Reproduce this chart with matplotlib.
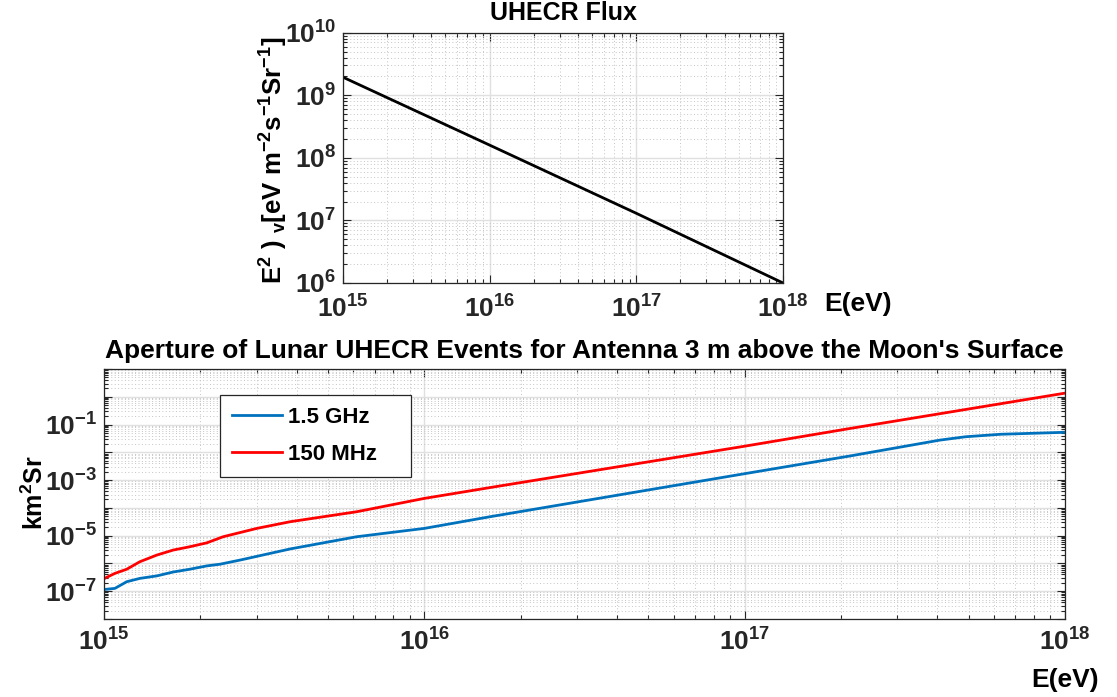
import numpy as np
import matplotlib.pyplot as plt
from matplotlib.ticker import LogLocator, NullFormatter, FixedLocator, FuncFormatter

plt.rcParams['font.family'] = ['Liberation Sans', 'DejaVu Sans']
plt.rcParams['font.weight'] = 'bold'
plt.rcParams['axes.labelweight'] = 'bold'
plt.rcParams['axes.titleweight'] = 'bold'
plt.rcParams['mathtext.fontset'] = 'custom'
plt.rcParams['mathtext.rm'] = 'Liberation Sans:bold'
plt.rcParams['mathtext.it'] = 'Liberation Sans:bold'
plt.rcParams['mathtext.bf'] = 'Liberation Sans:bold'
plt.rcParams['mathtext.default'] = 'rm'

# UHECR flux (top panel)
flux_E = [1e15, 1e16, 1e17, 1e18]
flux_val = [1.95e9, 1.6e8, 1.3e7, 1.0e6]

# aperture curves (bottom panel), log10 values
ghz_logE = [15.0, 15.034, 15.071, 15.112, 15.165, 15.216, 15.268, 15.321, 15.362,
            15.425, 15.581, 15.789, 16.0, 16.205, 17.0, 17.33, 17.61, 17.69, 17.80, 18.0]
ghz_logA = [-6.94, -6.90, -6.66, -6.54, -6.45, -6.31, -6.21, -6.09, -6.03,
            -5.88, -5.48, -5.04, -4.74, -4.32, -2.77, -2.13, -1.56, -1.44, -1.35, -1.28]
mhz_logE = [15.0, 15.034, 15.071, 15.112, 15.165, 15.216, 15.268, 15.321, 15.372,
            15.477, 15.581, 15.789, 16.0, 16.205, 17.0, 17.33, 18.0]
mhz_logA = [-6.55, -6.36, -6.21, -5.94, -5.70, -5.52, -5.40, -5.26, -5.04,
            -4.74, -4.50, -4.14, -3.66, -3.27, -1.78, -1.14, 0.13]

fig = plt.figure(figsize=(11.17, 6.97), dpi=100)


def style_axes(ax):
    ax.set_xscale('log')
    ax.set_yscale('log')
    ax.tick_params(which='both', direction='in', top=True, right=True,
                   labelsize=19, width=0.8, colors='#262626')
    ax.tick_params(which='major', length=6)
    ax.tick_params(which='minor', length=3)
    ax.tick_params(axis='x', which='major', pad=7)
    ax.tick_params(axis='y', which='major', pad=5)
    ax.xaxis.set_minor_locator(LogLocator(base=10, subs=np.arange(2, 10), numticks=20))
    ax.yaxis.set_minor_locator(LogLocator(base=10, subs=np.arange(2, 10), numticks=30))
    ax.xaxis.set_minor_formatter(NullFormatter())
    ax.yaxis.set_minor_formatter(NullFormatter())
    ax.grid(which='major', color='#e0e0e0', linewidth=1.0, linestyle='-')
    ax.grid(which='minor', color='#c4c4c4', linewidth=0.7, linestyle=(0, (1, 2.5)))
    ax.set_axisbelow(True)
    for s in ax.spines.values():
        s.set_color('#262626')
        s.set_linewidth(0.9)


def decade_label(v, pos):
    return r'$10^{%d}$' % int(round(np.log10(v)))


# top panel
ax1 = fig.add_axes([0.307, 0.594, 0.394, 0.359])
style_axes(ax1)
ax1.tick_params(axis='x', which='major', pad=9)
ax1.plot(flux_E, flux_val, color='black', linewidth=2)
ax1.set_xlim(1e15, 1e18)
ax1.set_ylim(1e6, 1e10)
ax1.xaxis.set_major_locator(FixedLocator([1e15, 1e16, 1e17, 1e18]))
ax1.yaxis.set_major_locator(FixedLocator([1e6, 1e7, 1e8, 1e9, 1e10]))
ax1.xaxis.set_major_formatter(FuncFormatter(decade_label))
ax1.yaxis.set_major_formatter(FuncFormatter(decade_label))
ax1.set_title('UHECR Flux', fontsize=18, pad=9)
ax1.set_ylabel(r'E$^{2}$ ) $_{v}$[eV m$^{-2}$s$^{-1}$Sr$^{-1}$]', fontsize=18.5)
ax1.yaxis.set_label_coords(-0.12, 0.49)
ax1.text(1.17, -0.085, 'E(eV)', transform=ax1.transAxes, fontsize=19,
         ha='center', va='center')

# bottom panel
ax2 = fig.add_axes([0.0931, 0.112, 0.8603, 0.3586])
style_axes(ax2)
ax2.plot(10 ** np.array(ghz_logE), 10 ** np.array(ghz_logA), color='#0072BD',
         linewidth=2, label='1.5 GHz')
ax2.plot(10 ** np.array(mhz_logE), 10 ** np.array(mhz_logA), color='#FF0000',
         linewidth=2, label='150 MHz')
ax2.set_xlim(1e15, 1e18)
ax2.set_ylim(1e-8, 1e1)
ax2.xaxis.set_major_locator(FixedLocator([1e15, 1e16, 1e17, 1e18]))
ax2.yaxis.set_major_locator(FixedLocator([10.0 ** k for k in range(-8, 2)]))
ax2.xaxis.set_major_formatter(FuncFormatter(decade_label))
ax2.yaxis.set_major_formatter(FuncFormatter(
    lambda v, p: decade_label(v, p) if int(round(np.log10(v))) in (-7, -5, -3, -1) else ''))
ax2.set_title("Aperture of Lunar UHECR Events for Antenna 3 m above the Moon's Surface",
              fontsize=19, pad=8)
ax2.set_ylabel(r'km$^{2}$Sr', fontsize=18)
ax2.yaxis.set_label_coords(-0.058, 0.504)
ax2.text(1.0, -0.245, 'E(eV)', transform=ax2.transAxes, fontsize=19,
         ha='center', va='center')
leg = ax2.legend(loc='upper left', bbox_to_anchor=(0.121, 0.568, 0.198, 0.328),
                 mode='expand', fontsize=16, fancybox=False, framealpha=1,
                 edgecolor='#262626', handlelength=2.25, handletextpad=0.25,
                 borderpad=0.55, labelspacing=0.7, borderaxespad=0)
leg.get_frame().set_linewidth(0.9)

fig.savefig('out.png', dpi=100)
